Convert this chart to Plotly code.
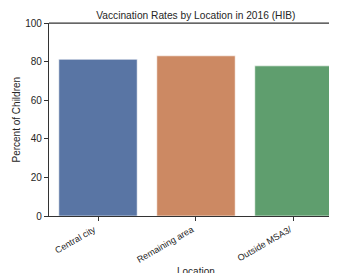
import plotly.graph_objects as go

categories = ["Central city", "Remaining area", "Outside MSA3/"]
values = [81.2, 83.0, 77.8]
colors = ["#5975a4", "#cc8963", "#5f9e6e"]
y_ticks = [0, 20, 40, 60, 80, 100]

fig = go.Figure(go.Bar(
    x=categories, y=values,
    marker=dict(color=colors, line=dict(color="rgba(255,255,255,0.6)", width=1)),
    width=0.8,
))

# page body has an 8px margin: figure drawn at (8, 8) in the window
W, H = 329, 265
axis_color = "#333333"
text_color = "#262626"
font = "Arial"
plot_h = 193.5
fig.update_layout(
    width=W, height=H,
    margin=dict(l=41, r=0, t=15, b=H - 15 - plot_h),
    plot_bgcolor="white", paper_bgcolor="white",
    showlegend=False,
    font=dict(family=font, size=10, color=text_color),
    title=dict(text="Vaccination Rates by Location in 2016 (HIB)",
               x=0.51, xref="paper", xanchor="center",
               y=1 - 7 / H, yref="container", yanchor="middle",
               font=dict(family=font, size=10.2, color=text_color)),
    xaxis=dict(range=[-0.5, 2.439], showline=True, linecolor=axis_color, linewidth=1.25,
               mirror=False, ticks="outside", ticklen=4, tickcolor=axis_color,
               tickangle=-30, ticklabelshift=-4,
               tickfont=dict(family=font, size=9, color=text_color),
               showgrid=False),
    yaxis=dict(range=[0, 100], tickvals=y_ticks, showline=True, linecolor=axis_color,
               linewidth=1.25, ticks="outside", ticklen=4, tickcolor=axis_color,
               showgrid=False, zeroline=False,
               tickfont=dict(family=font, size=10, color=text_color)),
    annotations=[
        dict(text="Location", xref="paper", yref="paper", x=0.51, y=-56 / plot_h,
             xanchor="center", yanchor="middle", showarrow=False,
             font=dict(family=font, size=10, color=text_color)),
        dict(text="Percent of Children", xref="paper", yref="paper", x=(8 - 41) / 288, y=0.5,
             xanchor="center", yanchor="middle", textangle=-90, showarrow=False,
             font=dict(family=font, size=10, color=text_color)),
    ],
    shapes=[dict(type="line", xref="paper", yref="paper", x0=0, x1=1, y0=1, y1=1,
                 line=dict(color=axis_color, width=1.25))],
)

fig.write_html("out.html")
